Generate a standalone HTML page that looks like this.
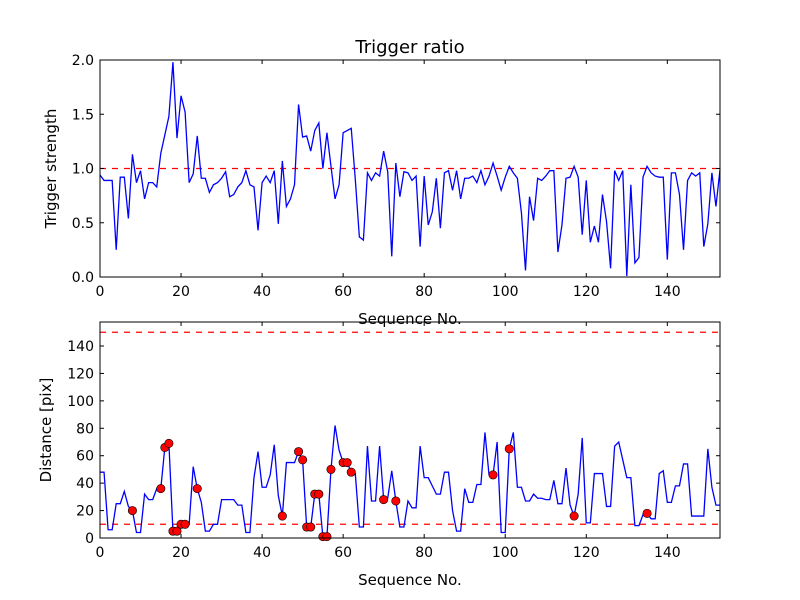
<!DOCTYPE html>
<html><head><meta charset="utf-8"><style>
body{margin:0;background:#fff;}
svg{display:block;font-family:"DejaVu Sans","Liberation Sans",sans-serif;}
</style></head><body>
<svg id="chart" width="800" height="600" viewBox="0 0 800 600" xmlns="http://www.w3.org/2000/svg">
<rect width="800" height="600" fill="#fff"/>
<g id="top"></g><g id="bot"></g>
</svg>
<script>
const strength=[0.94,0.89,0.89,0.89,0.25,0.92,0.92,0.54,1.13,0.87,0.98,0.72,0.87,0.87,0.83,1.14,1.31,1.48,1.98,1.28,1.67,1.52,0.87,0.95,1.30,0.91,0.91,0.78,0.85,0.87,0.91,0.97,0.74,0.76,0.83,0.87,0.98,0.85,0.83,0.43,0.87,0.93,0.87,0.98,0.49,1.07,0.65,0.72,0.85,1.59,1.29,1.30,1.16,1.35,1.42,1.00,1.33,1.02,0.72,0.85,1.33,1.35,1.37,0.9,0.37,0.34,0.96,0.89,0.96,0.93,1.16,0.97,0.19,1.05,0.74,0.97,0.96,0.89,0.93,0.28,0.93,0.48,0.60,0.91,0.45,0.96,0.98,0.80,0.98,0.72,0.91,0.91,0.93,0.87,0.98,0.85,0.93,1.05,0.93,0.80,0.92,1.02,0.96,0.91,0.59,0.06,0.74,0.52,0.91,0.89,0.93,0.98,0.98,0.23,0.48,0.91,0.92,1.02,0.92,0.39,0.89,0.32,0.47,0.32,0.76,0.51,0.08,0.98,0.89,0.98,0.01,0.85,0.13,0.18,0.92,1.02,0.96,0.93,0.92,0.92,0.16,0.96,0.96,0.76,0.25,0.89,0.96,0.93,0.96,0.28,0.49,0.96,0.65,0.99];
const distance=[48,48,6,6,25,25,34,23,20,4,4,32,28,28,36,36,66,69,5,5,10,10,10,52,36,26,5,5,10,10,28,28,28,28,24,24,4,4,44,63,37,37,46,68,31,16,55,55,55,63,57,8,8,32,32,1,1,50,82,64,55,55,48,47,8,8,67,27,27,67,28,29,49,27,8,8,27,22,22,67,44,44,38,32,32,48,48,20,5,5,36,26,26,39,39,77,46,46,70,4,4,65,77,37,37,27,27,32,29,29,28,28,42,25,25,51,24,16,32,73,11,11,47,47,47,23,23,67,70,57,44,44,9,9,17,18,14,14,47,49,26,26,38,38,54,54,16,16,16,16,65,37,24,24];
const flagged=[8,15,16,17,18,19,20,21,24,45,49,50,51,52,53,54,55,56,57,60,61,62,70,73,97,101,117,135];
const xTicks=[0,20,40,60,80,100,120,140];
const topYTicks=[0,0.5,1.0,1.5,2.0];
const topYLabels=["0.0","0.5","1.0","1.5","2.0"];
const botYTicks=[0,20,40,60,80,100,120,140];
const thresholdTop=[1.0];
const thresholdBot=[10,150];

const NS="http://www.w3.org/2000/svg";
function mk(tag,attrs,parent){const e=document.createElementNS(NS,tag);for(const k in attrs)e.setAttribute(k,attrs[k]);parent.appendChild(e);return e;}
const X0=100,X1=720,XMAX=153;
function xs(v){return X0+(X1-X0)*v/XMAX;}

function panel(g,y0,y1,ymax,yTicks,yLabels,data,thr,ylabel,prefix,title){
  const ys=v=>y1-(y1-y0)*v/ymax;
  thr.forEach(t=>{const l=mk('line',{x1:X0,x2:X1,y1:ys(t),y2:ys(t),stroke:'#ff0000','stroke-width':1.2,'stroke-dasharray':'6,6'},g);
    
    });
  const pts=data.map((v,i)=>xs(i).toFixed(2)+','+ys(v).toFixed(2)).join(' ');
  const pl=mk('polyline',{points:pts,fill:'none',stroke:'#0000ff','stroke-width':1.3,'stroke-linejoin':'miter'},g);
  
  
  if(prefix==='distance'){
    flagged.forEach(i=>{const c=mk('circle',{cx:xs(i),cy:ys(data[i]),r:4.2,fill:'#ff0000',stroke:'#000','stroke-width':0.6},g);
      
      });
  }
  const fr=mk('rect',{x:X0,y:y0,width:X1-X0,height:y1-y0,fill:'none',stroke:'#000','stroke-width':1},g);
  
  
  xTicks.forEach(t=>{const x=xs(t);
    mk('line',{x1:x,x2:x,y1:y1,y2:y1-4,stroke:'#000'},g);
    mk('line',{x1:x,x2:x,y1:y0,y2:y0+4,stroke:'#000'},g);
    const tx=mk('text',{x:x,y:y1+19,'text-anchor':'middle','font-size':14},g);tx.textContent=t;
    
    });
  yTicks.forEach((t,k)=>{const y=ys(t);
    mk('line',{x1:X0,x2:X0+4,y1:y,y2:y,stroke:'#000'},g);
    mk('line',{x1:X1,x2:X1-4,y1:y,y2:y,stroke:'#000'},g);
    const tx=mk('text',{x:X0-6,y:y+5,'text-anchor':'end','font-size':14},g);tx.textContent=yLabels[k];
    
    });
  const xl=mk('text',{x:410,y:y1+47,'text-anchor':'middle','font-size':15},g);xl.textContent='Sequence No.';
  
  
  const cy=(y0+y1)/2, lx=prefix==='distance'?51:56;
  const yl=mk('text',{x:lx,y:cy,'text-anchor':'middle','font-size':15,transform:'rotate(-90 '+lx+' '+cy+')'},g);yl.textContent=ylabel;
  
  
  if(title){const tt=mk('text',{x:410,y:53,'text-anchor':'middle','font-size':18},g);tt.textContent=title;
    
    }
}
const gt=document.getElementById('top');


const gb=document.getElementById('bot');


panel(gt,60,277,2.0,topYTicks,topYLabels,strength,thresholdTop,'Trigger strength','strength','Trigger ratio');
panel(gb,322,538,157.5,botYTicks,botYTicks.map(String),distance,thresholdBot,'Distance [pix]','distance',null);
</script>
</body></html>
